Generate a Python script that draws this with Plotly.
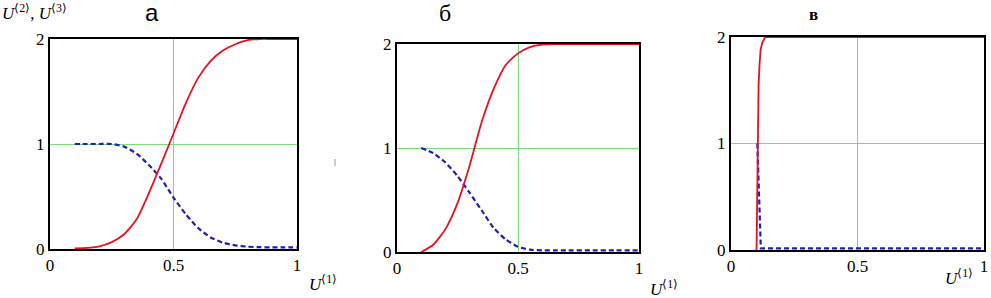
import plotly.graph_objects as go

# ---- data ----
a_u = [0.1, 0.15, 0.2, 0.25, 0.3, 0.35, 0.4, 0.45, 0.5, 0.55, 0.6, 0.65, 0.7, 0.75, 0.8, 0.85, 0.9, 0.95, 1.0]
a_u2 = [0.005, 0.01, 0.025, 0.065, 0.14, 0.28, 0.53, 0.81, 1.1, 1.39, 1.63, 1.79, 1.89, 1.95, 1.99, 2.0, 2.0, 2.0, 2.0]
a_u3 = [1.0, 1.0, 1.0, 1.0, 0.975, 0.91, 0.8, 0.67, 0.49, 0.33, 0.2, 0.11, 0.06, 0.035, 0.022, 0.017, 0.015, 0.015, 0.015]

b_u = [0.1, 0.15, 0.2, 0.25, 0.3, 0.35, 0.4, 0.45, 0.5, 0.55, 0.6, 0.65, 0.7, 0.8, 0.9, 1.0]
b_u2 = [0.0, 0.07, 0.22, 0.47, 0.83, 1.25, 1.57, 1.8, 1.91, 1.97, 1.995, 2.0, 2.0, 2.0, 2.0, 2.0]
b_u3 = [1.0, 0.95, 0.86, 0.73, 0.57, 0.4, 0.23, 0.12, 0.05, 0.022, 0.016, 0.015, 0.015, 0.015, 0.015, 0.015]

c_u_red = [0.101, 0.103, 0.105, 0.109, 0.113, 0.117, 0.123, 0.128, 0.133, 0.138, 0.2, 0.4, 0.6, 0.8, 1.0]
c_u2 = [0.0, 0.5, 1.0, 1.55, 1.75, 1.88, 1.94, 1.97, 1.99, 2.0, 2.0, 2.0, 2.0, 2.0, 2.0]
c_u_blue = [0.104, 0.106, 0.109, 0.112, 0.115, 0.118, 0.2, 0.4, 0.6, 0.8, 1.0]
c_u3 = [1.0, 0.85, 0.65, 0.45, 0.2, 0.016, 0.016, 0.016, 0.016, 0.016, 0.016]

x_ticks = [0, 0.5, 1]
x_tick_text = ["0", "0.5", "1"]
y_ticks = [0, 1, 2]
y_tick_text = ["0", "1", "2"]
panel_titles = ["а", "б", "в"]

W, H = 991, 298
RED = "#e8101c"
BLUE = "#1f1fb4"
GRID = "#7ed87e"
SERIF = "Liberation Serif, Times New Roman, Times, serif"


def fx(px):
    return px / W


def fy(py):
    return 1 - py / H


# pixel boxes of plot areas in the window: (left, right, top, bottom)
boxes = [(50, 297, 39, 249), (397, 639, 44, 252), (731, 984, 37, 250)]

fig = go.Figure()
series = [(a_u, a_u2, a_u, a_u3), (b_u, b_u2, b_u, b_u3), (c_u_red, c_u2, c_u_blue, c_u3)]
for i, (xr, yr, xb, yb) in enumerate(series):
    sfx = "" if i == 0 else str(i + 1)
    shape = "linear" if i == 2 else "spline"
    fig.add_trace(go.Scatter(x=xb, y=yb, mode="lines", xaxis="x" + sfx, yaxis="y" + sfx,
                             line=dict(color=BLUE, width=2.2, dash="5px,3px", shape=shape, smoothing=0.6),
                             cliponaxis=False, showlegend=False, hoverinfo="skip"))
    fig.add_trace(go.Scatter(x=xr, y=yr, mode="lines", xaxis="x" + sfx, yaxis="y" + sfx,
                             line=dict(color=RED, width=1.8, shape=shape, smoothing=0.6),
                             cliponaxis=False, showlegend=False, hoverinfo="skip"))

layout = dict(template="none", width=W, height=H, autosize=False,
              margin=dict(l=0, r=0, t=0, b=0, pad=0),
              paper_bgcolor="white", plot_bgcolor="white",
              font=dict(family=SERIF, size=17, color="black"))
for i, (l, r, t, b) in enumerate(boxes):
    sfx = "" if i == 0 else str(i + 1)
    common = dict(showgrid=True, gridcolor=GRID, gridwidth=1, zeroline=False, showline=True,
                  linecolor="black", linewidth=2, mirror=True, ticks="", automargin=False,
                  layer="below traces", fixedrange=True,
                  tickfont=dict(family=SERIF, size=17, color="black"))
    layout["xaxis" + sfx] = dict(domain=[fx(l), fx(r)], range=[0, 1], anchor="y" + sfx,
                                 tickvals=x_ticks, ticktext=x_tick_text, **common)
    layout["yaxis" + sfx] = dict(domain=[fy(b), fy(t)], range=[0, 2], anchor="x" + sfx,
                                 tickvals=y_ticks, ticktext=y_tick_text, **common)
fig.update_layout(**layout)

ann = []
# panel titles
ann.append(dict(x=fx(152), y=fy(13), text=panel_titles[0], font=dict(family="Liberation Sans, Arial, sans-serif", size=24)))
ann.append(dict(x=fx(445), y=fy(13), text=panel_titles[1], font=dict(family=SERIF, size=24)))
ann.append(dict(x=fx(813), y=fy(14), text="<b>" + panel_titles[2] + "</b>", font=dict(family=SERIF, size=17)))
# y axis label
ann.append(dict(x=fx(0), y=fy(12), xanchor="left", text="<i>U</i><sup>⟨2⟩</sup>, <i>U</i><sup>⟨3⟩</sup>",
                font=dict(family=SERIF, size=17)))
# x axis labels
for (xp, yp) in [(307, 283), (648, 288), (943, 277)]:
    ann.append(dict(x=fx(xp), y=fy(yp), xanchor="left", text="<i>U</i><sup>⟨1⟩</sup>",
                    font=dict(family=SERIF, size=17)))
for a in ann:
    a.setdefault("xanchor", "center")
    a.update(xref="paper", yref="paper", yanchor="middle", showarrow=False)
fig.update_layout(annotations=ann)

# small stray mark near the second panel
fig.add_shape(type="line", xref="paper", yref="paper", x0=fx(335), x1=fx(335),
              y0=fy(159), y1=fy(166), line=dict(color="#999999", width=1))

fig.write_html("out.html", config={"displayModeBar": False, "staticPlot": True},
               post_script="document.body.style.margin='0';")
